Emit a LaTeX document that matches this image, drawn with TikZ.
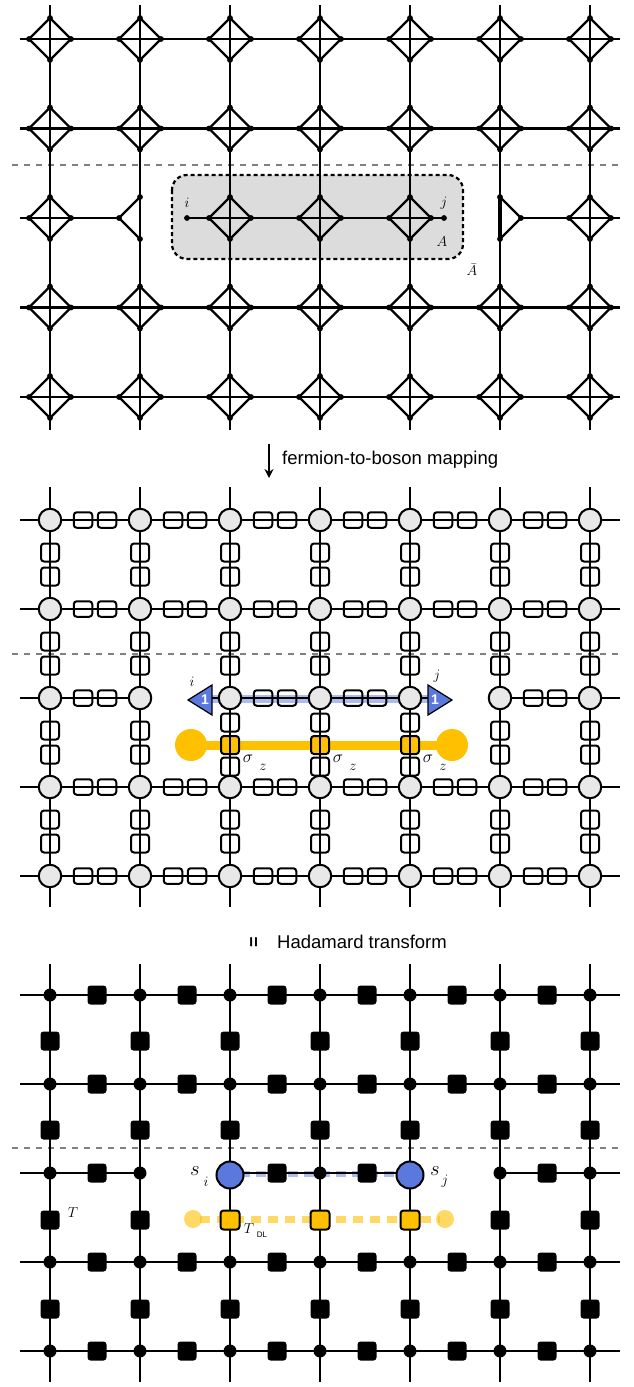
\documentclass[tikz,border=0pt]{standalone}
\usepackage{fontspec}
\newfontfamily\arial{Liberation Sans}
\usetikzlibrary{arrows.meta}
\definecolor{fgray}{HTML}{DCDCDC}
\definecolor{cgray}{HTML}{E8E8E8}
\definecolor{bblue}{HTML}{5B78DC}
\definecolor{oyel}{HTML}{FFC000}
\definecolor{dgray}{HTML}{808080}
\tikzset{
  lat/.style={line width=2.4pt},
  sepline/.style={dgray, line width=2.6pt, dash pattern=on 6pt off 6pt},
  tdot/.style={circle, fill=black, inner sep=0pt, minimum size=5.8pt},
  hsq/.style={draw, line width=2pt, rounded corners=3pt, minimum width=18.5pt, minimum height=15.5pt, inner sep=0pt},
  vsq/.style={draw, line width=2pt, rounded corners=3pt, minimum width=18pt, minimum height=18pt, inner sep=0pt},
  osq/.style={vsq, fill=oyel},
  cnode/.style={circle, draw, line width=2pt, fill=cgray, minimum size=22.5pt, inner sep=0pt},
  bdot/.style={circle, fill=black, inner sep=0pt, minimum size=13pt},
  bsq/.style={fill=black, rounded corners=3pt, minimum size=19pt, inner sep=0pt},
  bosq/.style={draw, line width=2pt, fill=oyel, rounded corners=3pt, minimum size=19pt, inner sep=0pt},
  lab/.style={inner sep=0pt, font=\fontsize{14.4}{16}\selectfont},
  sflab/.style={inner sep=0pt, anchor=west, font=\arial\fontsize{18.5}{20}\selectfont},
}
\newcommand{\diam}[2]{%
  \draw[lat] (#1-21,#2) -- (#1,#2-21) -- (#1+21,#2) -- (#1,#2+21) -- cycle;
  \foreach \dx/\dy in {-21/0,21/0,0/-21,0/21} \node[tdot] at (#1+\dx,#2+\dy) {};
}
\begin{document}
\begin{tikzpicture}[x=1pt,y=-1pt]
\useasboundingbox (0,0) rectangle (633,1387);
% ================= TOP PANEL =================
\fill[fgray, rounded corners=15pt] (172,175) rectangle (463,259);
\draw[line width=2.2pt, dash pattern=on 4pt off 3pt, rounded corners=15pt] (172,175) rectangle (463,259);
\draw[sepline] (12,165) -- (622,165);
\foreach \y in {39,128.5,307.5,397} \draw[lat] (20,\y) -- (620,\y);
\foreach \x in {50,140,230,320,410,500,590} \draw[lat] (\x,5) -- (\x,430);
\foreach \x in {50,140,230,320,410,500,590}
  \foreach \y in {39,128.5,307.5,397} {\diam{\x}{\y}}
% middle row
\draw[lat] (20,218) -- (119,218);
\draw[lat] (187,218) -- (444,218);
\draw[lat] (521,218) -- (620,218);
\foreach \x in {50,230,320,410,590} {\diam{\x}{218}}
\draw[lat] (140,197) -- (119,218) -- (140,239);
\foreach \p in {(140,197),(119,218),(140,239)} \node[tdot] at \p {};
\draw[lat] (500,197) -- (521,218) -- (500,239);
\draw[line width=3.4pt] (500,197) -- (500,239);
\foreach \p in {(500,197),(521,218),(500,239)} \node[tdot] at \p {};
\node[tdot] (ni) at (187,218) {};
\node[tdot] (nj) at (444,218) {};
\node[lab] at (187,203) {$i$};
\node[lab] at (444,203) {$j$};
\node[lab, font=\fontsize{15}{16}\selectfont] at (442,242) {$A$};
\node[lab, font=\fontsize{15}{16}\selectfont] at (472,270) {$\bar{A}$};
% ================= ARROW 1 =================
\coordinate (a1) at (269,444);
\coordinate (a2) at (269,478);
\draw[line width=2.5pt, -{Stealth[length=9pt,width=9pt]}] (a1) -- (a2);
\node[sflab] at (282,460) {fermion-to-boson mapping};
% ================= MIDDLE PANEL =================
\draw[sepline] (12,654) -- (622,654);
% orange band
\draw[oyel, line width=9pt] (191,745) -- (452,745);
\fill[oyel] (191,745) circle (16);
\fill[oyel] (452,745) circle (16);
% blue band
\draw[bblue, opacity=0.5, line width=8pt] (200,699) -- (440,699);
\foreach \y in {520,609,787,876} \draw[lat] (20,\y) -- (620,\y);
\draw[lat] (20,698) -- (140,698);
\draw[lat] (212,698) -- (428,698);
\draw[lat] (500,698) -- (620,698);
\foreach \x in {50,140,230,320,410,500,590} \draw[lat] (\x,487) -- (\x,907);
% horizontal squares
\foreach \y in {520,609,787,876}
  \foreach \x in {95,185,275,365,455,545} {
    \node[hsq] at (\x-12,\y) {}; \node[hsq] at (\x+12,\y) {};
  }
\foreach \x in {95,275,365,545} {
    \node[hsq] at (\x-12,698) {}; \node[hsq] at (\x+12,698) {};
}
% vertical squares
\foreach \x in {50,140,230,320,410,500,590}
  \foreach \y in {564.5,653.5,831.5} {
    \node[vsq] at (\x,\y-12) {}; \node[vsq] at (\x,\y+12) {};
  }
\foreach \x in {50,140,500,590} {
    \node[vsq] at (\x,730.5) {}; \node[vsq] at (\x,754.5) {};
}
\foreach \x in {230,320,410} {
    \node[vsq] at (\x,722.5) {};
    \node[osq] at (\x,745) {};
    \node[vsq] at (\x,766.5) {};
    \draw[line width=2.4pt] (\x,736) -- (\x,754);
    \node[lab, font=\fontsize{17.28}{18}\selectfont] at (\x+18,759) {$\sigma$};
    \node[lab, font=\fontsize{14.4}{15}\selectfont] at (\x+33,767) {$z$};
}
% circles
\foreach \x in {50,140,230,320,410,500,590}
  \foreach \y in {520,609,698,787,876} \node[cnode] at (\x,\y) {};
% triangles
\draw[fill=bblue, line width=1.2pt] (212,685) -- (188,700) -- (212,715) -- cycle;
\draw[fill=bblue, line width=1.2pt] (428,685) -- (452,700) -- (428,715) -- cycle;
\node[text=white, inner sep=0pt, font=\arial\bfseries\fontsize{14}{14}\selectfont] at (205,700) {1};
\node[text=white, inner sep=0pt, font=\arial\bfseries\fontsize{14}{14}\selectfont] at (435,700) {1};
\node[lab] at (192,682) {$i$};
\node[lab] at (437,676) {$j$};
% ================= HADAMARD =================
\node[inner sep=0pt, rotate=90, font=\arial\bfseries\fontsize{18}{18}\selectfont] at (255,942) {=};
\node[sflab] at (277,942) {Hadamard transform};
% ================= BOTTOM PANEL =================
\draw[sepline] (12,1148) -- (622,1148);
\draw[oyel, opacity=0.6, line width=7pt, dash pattern=on 10pt off 7pt] (200,1219) -- (440,1219);
\fill[oyel, opacity=0.6] (193,1219) circle (9);
\fill[oyel, opacity=0.6] (445,1219) circle (9);
\draw[bblue, opacity=0.5, line width=6pt, dash pattern=on 10pt off 6pt] (240,1174) -- (400,1174);
\foreach \y in {995,1084,1262,1351} \draw[lat] (20,\y) -- (620,\y);
\draw[lat] (20,1173) -- (140,1173);
\draw[lat] (230,1173) -- (410,1173);
\draw[lat] (500,1173) -- (620,1173);
\foreach \x in {50,140,230,320,410,500,590} \draw[lat] (\x,964) -- (\x,1382);
\foreach \x in {50,140,230,320,410,500,590}
  \foreach \y in {995,1084,1173,1262,1351} \node[bdot] at (\x,\y) {};
\foreach \y in {995,1084,1262,1351}
  \foreach \x in {97,187,277,367,457,547} \node[bsq] at (\x,\y) {};
\foreach \x in {97,277,367,547} \node[bsq] at (\x,1173) {};
\foreach \x in {50,140,230,320,410,500,590}
  \foreach \y in {1041,1130,1309} \node[bsq] at (\x,\y) {};
\foreach \x in {50,140,500,590} \node[bsq] at (\x,1220) {};
\foreach \x in {230,320,410} \node[bosq] at (\x,1220) {};
\node[circle, draw, line width=2pt, fill=bblue, minimum size=27pt, inner sep=0pt] (si) at (230,1175) {};
\node[circle, draw, line width=2pt, fill=bblue, minimum size=27pt, inner sep=0pt] (sj) at (410,1175) {};
\node[lab, font=\fontsize{20.74}{22}\selectfont] at (195,1171) {$s$};
\node[lab, font=\fontsize{14.4}{15}\selectfont] at (206,1182) {$i$};
\node[lab, font=\fontsize{20.74}{22}\selectfont] at (435,1171) {$s$};
\node[lab, font=\fontsize{14.4}{15}\selectfont] at (445,1181) {$j$};
\node[lab, font=\fontsize{15}{16}\selectfont] at (249,1229) {$T$};
\node[inner sep=0pt, font=\arial\fontsize{8}{9}\selectfont] at (262,1235) {DL};
\node[lab, font=\fontsize{15}{16}\selectfont] at (73,1213) {$T$};
\end{tikzpicture}
\end{document}
